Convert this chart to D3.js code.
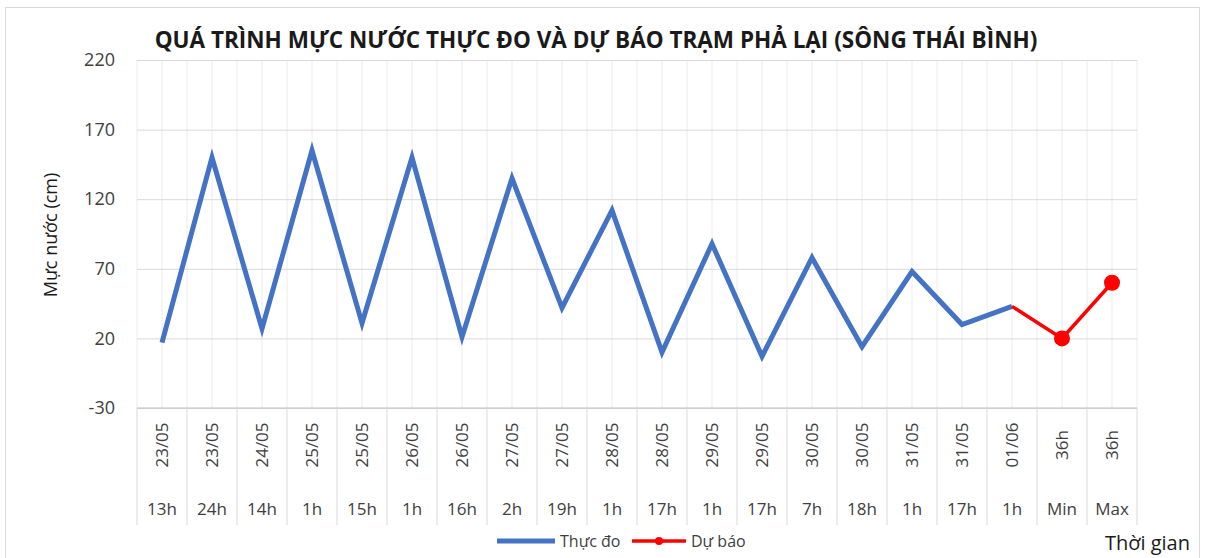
<!DOCTYPE html>
<html>
<head>
<meta charset="utf-8">
<script src="https://cdn.jsdelivr.net/npm/d3@7"></script>
<style>
  body { margin: 0; background: #fff; }
  svg { font-family: "Open Sans", "Liberation Sans", sans-serif; }
</style>
</head>
<body>
<svg id="chart"></svg>
<script>
// dữ liệu
const dates = ["23/05","23/05","24/05","25/05","25/05","26/05","26/05","27/05","27/05","28/05",
               "28/05","29/05","29/05","30/05","30/05","31/05","31/05","01/06","36h","36h"];
const hours = ["13h","24h","14h","1h","15h","1h","16h","2h","19h","1h",
               "17h","1h","17h","7h","18h","1h","17h","1h","Min","Max"];
const observed = [17,150,27,155,31,150,21,135,42,112,10,88,7,78,14,68,30,43,null,null];
const forecast = [null,null,null,null,null,null,null,null,null,null,
                  null,null,null,null,null,null,null,43,20,60];
const forecastMarkers = [false,false,false,false,false,false,false,false,false,false,
                         false,false,false,false,false,false,false,false,true,true];
const yTicks = [-30,20,70,120,170,220];

let width = 1207;
let height = 558;
let plotLeft = 137, plotRight = 1137, plotTop = 60, plotBottom = 408;

let svg = d3.select("#chart").attr("width", width).attr("height", height);

// khung ngoài
svg.append("rect")
   .attr("x", 5.5).attr("y", 7.5)
   .attr("width", 1194).attr("height", 570)
   .attr("fill", "#fff").attr("stroke", "#d9d9d9");

let idx = d3.range(dates.length);
let xScale = d3.scaleBand().domain(idx).range([plotLeft, plotRight]);
let yScale = d3.scaleLinear().domain([-30, 220]).range([plotBottom, plotTop]);
let bw = xScale.bandwidth();

// lưới dọc (chính + phụ)
let vLines = d3.range(dates.length * 2 + 1).map(i => plotLeft + i * bw / 2);
svg.append("g").selectAll("line").data(vLines).enter().append("line")
   .attr("x1", d => d).attr("x2", d => d)
   .attr("y1", plotTop).attr("y2", plotBottom)
   .attr("stroke", "#ececec").attr("stroke-width", 1);

// lưới ngang + trục Y
let yAxis = d3.axisLeft(yScale).tickValues(yTicks)
   .tickFormat(d => String(d))
   .tickSize(-(plotRight - plotLeft)).tickPadding(22);
let gy = svg.append("g").attr("transform", `translate(${plotLeft},0)`).call(yAxis);
gy.select(".domain").remove();
gy.selectAll(".tick line").attr("stroke", "#d9d9d9");
gy.selectAll(".tick text").attr("font-size", 18).attr("fill", "#404040")
  .attr("font-family", "Open Sans");

// trục X: đường, vạch chia, nhãn 2 cấp
svg.append("line").attr("x1", plotLeft).attr("x2", plotRight)
   .attr("y1", plotBottom).attr("y2", plotBottom).attr("stroke", "#bfbfbf");
svg.append("g").selectAll("line").data(d3.range(dates.length + 1)).enter().append("line")
   .attr("x1", i => plotLeft + i * bw).attr("x2", i => plotLeft + i * bw)
   .attr("y1", plotBottom).attr("y2", 525)
   .attr("stroke", "#d9d9d9");

svg.append("g").selectAll("text").data(idx).enter().append("text")
   .attr("transform", i => `translate(${xScale(i) + bw / 2 + 6},445) rotate(-90)`)
   .attr("text-anchor", "middle")
   .attr("font-size", 17).attr("fill", "#404040")
   .text(i => dates[i]);

svg.append("g").selectAll("text").data(idx).enter().append("text")
   .attr("x", i => xScale(i) + bw / 2).attr("y", 515)
   .attr("text-anchor", "middle")
   .attr("font-size", 17).attr("fill", "#404040")
   .text(i => hours[i]);

// đường thực đo
let line = d3.line()
   .defined(d => d != null)
   .x((d, i) => xScale(i) + bw / 2)
   .y(d => yScale(d));

svg.append("path").datum(observed)
   .attr("d", line)
   .attr("fill", "none").attr("stroke", "#4472C4")
   .attr("stroke-width", 5).attr("stroke-linejoin", "miter");

// đường dự báo
svg.append("path").datum(forecast)
   .attr("d", line)
   .attr("fill", "none").attr("stroke", "#FF0000")
   .attr("stroke-width", 3.5);

svg.append("g").selectAll("circle")
   .data(idx.filter(i => forecastMarkers[i])).enter().append("circle")
   .attr("cx", i => xScale(i) + bw / 2)
   .attr("cy", i => yScale(forecast[i]))
   .attr("r", 8).attr("fill", "#FF0000");

// tiêu đề
svg.append("text")
   .attr("x", 596).attr("y", 48)
   .attr("text-anchor", "middle")
   .attr("font-size", 22.5).attr("font-weight", "bold").attr("fill", "#1a1a1a")
   .text("QUÁ TRÌNH MỰC NƯỚC THỰC ĐO VÀ DỰ BÁO TRẠM PHẢ LẠI (SÔNG THÁI BÌNH)");

// tiêu đề trục Y
svg.append("text")
   .attr("transform", "translate(57,235) rotate(-90)")
   .attr("text-anchor", "middle")
   .attr("font-size", 18).attr("fill", "#1a1a1a")
   .text("Mực nước (cm)");

// tiêu đề trục X
svg.append("text")
   .attr("x", 1190).attr("y", 550)
   .attr("text-anchor", "end")
   .attr("font-size", 20).attr("fill", "#1a1a1a")
   .text("Thời gian");

// chú giải
let legend = svg.append("g");
legend.append("line").attr("x1", 497).attr("x2", 555).attr("y1", 541).attr("y2", 541)
      .attr("stroke", "#4472C4").attr("stroke-width", 5);
legend.append("text").attr("x", 560).attr("y", 547).attr("font-size", 16).attr("fill", "#404040")
      .text("Thực đo");
legend.append("line").attr("x1", 632).attr("x2", 686).attr("y1", 541).attr("y2", 541)
      .attr("stroke", "#FF0000").attr("stroke-width", 3.5);
legend.append("circle").attr("cx", 659).attr("cy", 541).attr("r", 4).attr("fill", "#FF0000");
legend.append("text").attr("x", 691).attr("y", 547).attr("font-size", 16).attr("fill", "#404040")
      .text("Dự báo");
</script>
</body>
</html>
